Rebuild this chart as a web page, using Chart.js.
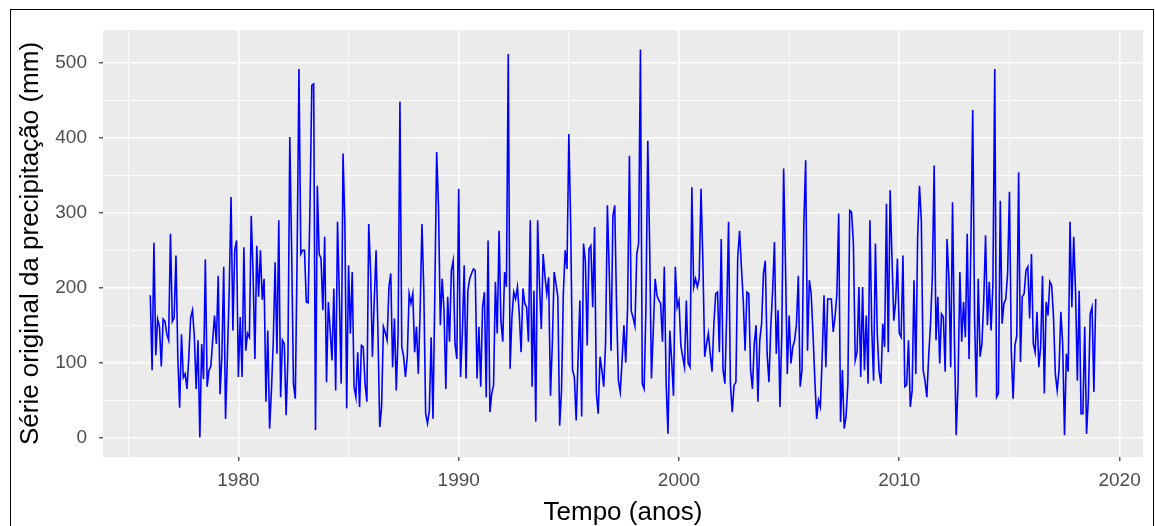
<!DOCTYPE html>
<html>
<head>
<meta charset="utf-8">
<script src="https://cdn.jsdelivr.net/npm/chart.js@4.4.1/dist/chart.umd.min.js"></script>
<style>
  html, body { margin: 0; padding: 0; background: #fff; overflow: hidden; }
  #wrap { position: relative; width: 1155px; height: 526px; }
  #moldura { position: absolute; left: 10px; top: 9px; width: 1142px; height: 600px; border: 1px solid #000; pointer-events: none; }
  canvas { position: absolute; left: 0; top: 0; }
</style>
</head>
<body>
<div id="wrap">
  <canvas id="grafico" width="1155" height="526"></canvas>
  <div id="moldura"></div>
</div>
<script>
// serie mensal de precipitacao (mm), jan/1976 ate dez/2018
const anoInicial = 1976;
const precipitacao = [
  190, 90, 260, 110, 158, 148, 95, 158, 155, 138, 130, 272,   // 1976
  155, 160, 243, 108, 40, 138, 80, 85, 65, 108, 160, 170,     // 1977
  135, 65, 130, 0, 125, 78, 238, 68, 90, 95, 130, 163,        // 1978
  125, 216, 58, 108, 228, 25, 108, 196, 321, 143, 250, 263,   // 1979
  81, 161, 81, 254, 116, 139, 134, 296, 219, 105, 256, 188,   // 1980
  250, 184, 212, 48, 143, 12, 63, 128, 234, 112, 290, 54,     // 1981
  130, 125, 30, 108, 401, 250, 72, 52, 245, 492, 245, 250,    // 1982
  250, 181, 180, 310, 470, 472, 10, 336, 245, 239, 170, 268,  // 1983
  74, 181, 143, 103, 199, 63, 288, 188, 72, 379, 285, 39,     // 1984
  230, 139, 221, 68, 54, 114, 41, 123, 121, 72, 48, 285,      // 1985
  223, 108, 183, 250, 143, 14, 41, 148, 140, 130, 201, 219,   // 1986
  94, 159, 63, 139, 448, 121, 108, 81, 108, 192, 179, 192,    // 1987
  114, 148, 85, 170, 285, 196, 32, 19, 36, 134, 25, 192,      // 1988
  381, 308, 150, 212, 170, 65, 188, 128, 223, 236, 125, 105,  // 1989
  332, 81, 139, 230, 79, 196, 212, 219, 225, 223, 79, 148,    // 1990
  68, 174, 194, 54, 263, 34, 59, 70, 208, 139, 276, 156,      // 1991
  128, 221, 201, 512, 92, 161, 194, 185, 201, 165, 114, 199,  // 1992
  179, 174, 128, 290, 68, 196, 21, 290, 205, 145, 245, 215,   // 1993
  192, 214, 56, 125, 221, 205, 188, 16, 63, 192, 250, 225,    // 1994
  405, 285, 90, 81, 23, 103, 183, 28, 259, 236, 123, 252,     // 1995
  256, 174, 281, 59, 32, 108, 90, 68, 125, 310, 223, 116,     // 1996
  296, 310, 174, 76, 61, 103, 150, 100, 174, 376, 169, 160,   // 1997
  149, 245, 259, 518, 72, 65, 174, 396, 259, 79, 143, 212,    // 1998
  190, 183, 179, 128, 228, 72, 5, 143, 103, 56, 228, 174,     // 1999
  183, 123, 108, 94, 183, 99, 94, 334, 201, 212, 201, 212,    // 2000
  332, 236, 108, 125, 139, 112, 88, 152, 192, 194, 114, 265,  // 2001
  90, 72, 165, 288, 72, 34, 70, 74, 241, 276, 228, 183,       // 2002
  116, 194, 192, 90, 65, 125, 150, 48, 130, 152, 219, 236,    // 2003
  112, 74, 148, 196, 261, 112, 170, 41, 139, 359, 230, 85,    // 2004
  163, 99, 121, 130, 152, 216, 68, 90, 285, 370, 116, 210,    // 2005
  192, 139, 77, 25, 50, 41, 108, 190, 94, 185, 185, 185,      // 2006
  141, 161, 192, 299, 21, 90, 12, 28, 72, 303, 301, 259,      // 2007
  103, 114, 201, 81, 201, 90, 163, 72, 290, 145, 76, 259,     // 2008
  139, 88, 72, 152, 121, 312, 114, 330, 241, 156, 181, 239,   // 2009
  139, 134, 243, 68, 70, 130, 41, 63, 210, 85, 268, 336,      // 2010
  290, 90, 76, 54, 108, 152, 214, 363, 130, 188, 99, 165,     // 2011
  161, 88, 265, 214, 94, 314, 134, 3, 72, 221, 128, 181,      // 2012
  134, 272, 105, 259, 437, 161, 54, 212, 108, 125, 183, 270,  // 2013
  150, 208, 143, 205, 492, 54, 59, 316, 152, 179, 185, 219,   // 2014
  328, 116, 52, 123, 136, 354, 101, 188, 192, 223, 228, 159,  // 2015
  245, 125, 114, 168, 94, 121, 216, 59, 181, 163, 208, 203,   // 2016
  161, 85, 63, 90, 168, 125, 3, 112, 88, 288, 174, 268,       // 2017
  196, 76, 196, 32, 32, 148, 5, 54, 165, 174, 61, 185         // 2018
];
const ticksX = [1975, 1980, 1985, 1990, 1995, 2000, 2005, 2010, 2015, 2020];
const ticksY = [0, 50, 100, 150, 200, 250, 300, 350, 400, 450, 500];

// pontos (tempo decimal, valor)
const pontos = precipitacao.map((v, i) => ({ x: anoInicial + i / 12, y: v }));

// limites com expansao de 5% como no ggplot
const xIni = pontos[0].x, xFim = pontos[pontos.length - 1].x;
const yIni = Math.min(...precipitacao), yFim = Math.max(...precipitacao);
const expX = (xFim - xIni) * 0.05, expY = (yFim - yIni) * 0.05;

const corTexto = '#4D4D4D';
const fonte = '"Liberation Sans", Arial, sans-serif';

// fundo cinza do painel
const fundoPainel = {
    id: 'fundoPainel',
    beforeDraw(chart) {
        const { ctx, chartArea: a } = chart;
        ctx.save();
        ctx.fillStyle = '#EBEBEB';
        ctx.fillRect(a.left, a.top, a.right - a.left, a.bottom - a.top);
        ctx.restore();
    }
};

new Chart(document.getElementById('grafico'), {
    type: 'line',
    data: {
        datasets: [{
            data: pontos,
            borderColor: '#0000FF',
            borderWidth: 1.6,
            pointRadius: 0,
            tension: 0,
            fill: false
        }]
    },
    options: {
        responsive: false,
        animation: false,
        devicePixelRatio: 1,
        layout: { padding: { top: 30, right: 12, left: 0, bottom: 0 } },
        plugins: { legend: { display: false }, tooltip: { enabled: false } },
        scales: {
            x: {
                type: 'linear',
                min: xIni - expX,
                max: xFim + expX,
                afterBuildTicks: s => { s.ticks = ticksX.map(v => ({ value: v })); },
                afterFit: s => { s.height = 69; },
                border: { display: false },
                grid: {
                    color: '#FFFFFF',
                    lineWidth: c => (c.tick && c.tick.value % 10 === 0) ? 1.6 : 0.8,
                    tickColor: c => (c.tick && c.tick.value % 10 === 0) ? '#333333' : 'rgba(0,0,0,0)',
                    tickWidth: 1.2,
                    tickLength: 4
                },
                ticks: {
                    autoSkip: false,
                    maxRotation: 0,
                    padding: 8,
                    color: corTexto,
                    font: { family: fonte, size: 19 },
                    callback: v => v % 10 === 0 ? String(v) : ''
                },
                title: {
                    display: true,
                    text: 'Tempo (anos)',
                    color: '#000',
                    font: { family: fonte, size: 26, lineHeight: 1 },
                    padding: { top: 0, bottom: 0 }
                }
            },
            y: {
                min: yIni - expY,
                max: yFim + expY,
                afterBuildTicks: s => { s.ticks = ticksY.map(v => ({ value: v })); },
                afterFit: s => { s.width = 103; },
                border: { display: false },
                grid: {
                    color: '#FFFFFF',
                    lineWidth: c => (c.tick && c.tick.value % 100 === 0) ? 1.6 : 0.8,
                    tickColor: c => (c.tick && c.tick.value % 100 === 0) ? '#333333' : 'rgba(0,0,0,0)',
                    tickWidth: 1.2,
                    tickLength: 4
                },
                ticks: {
                    autoSkip: false,
                    padding: 12,
                    color: corTexto,
                    font: { family: fonte, size: 19 },
                    callback: v => v % 100 === 0 ? String(v) : ''
                },
                title: {
                    display: true,
                    text: 'Série original da precipitação (mm)',
                    color: '#000',
                    font: { family: fonte, size: 26, lineHeight: 1 },
                    padding: { top: 18, bottom: 0 }
                }
            }
        }
    },
    plugins: [fundoPainel]
});
</script>
</body>
</html>
